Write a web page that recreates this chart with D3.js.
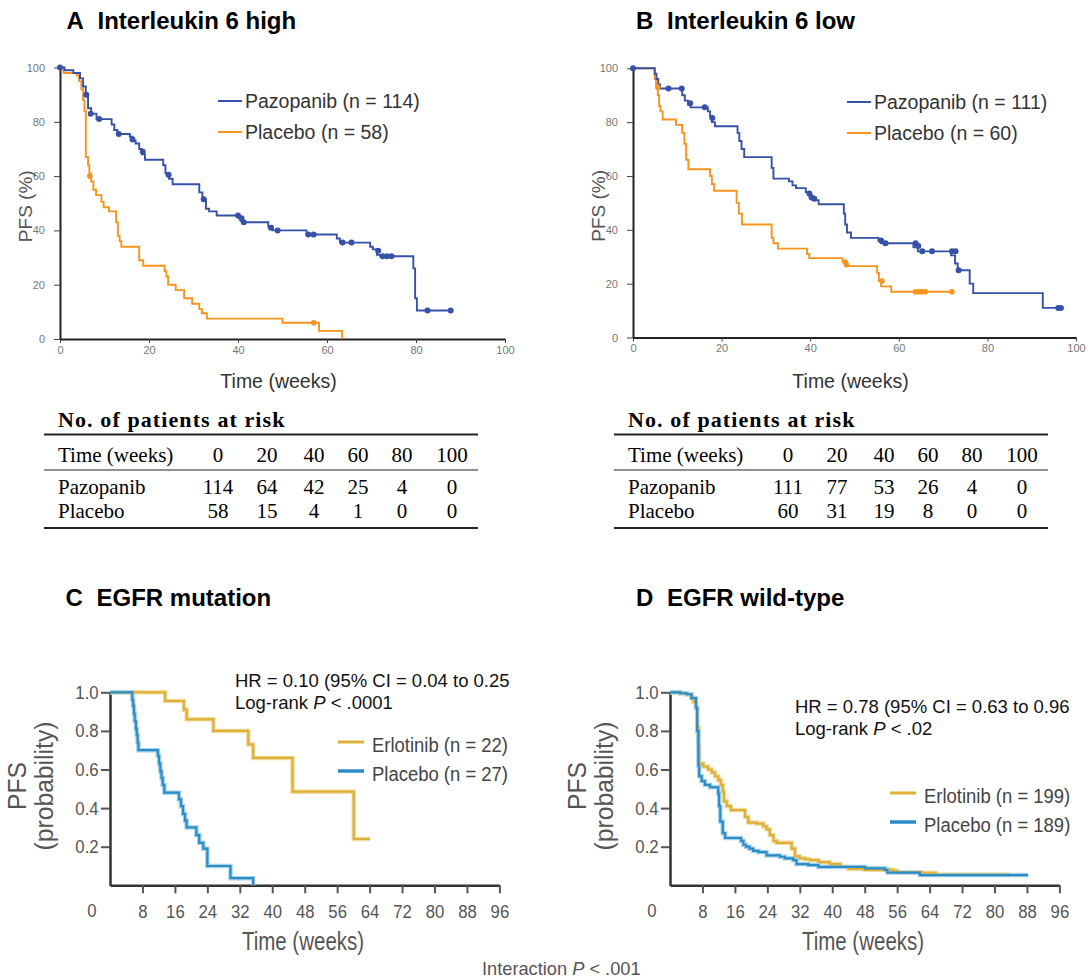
<!DOCTYPE html>
<html><head><meta charset="utf-8">
<script src="https://cdn.jsdelivr.net/npm/d3@7"></script>
<style>body{margin:0;background:#fff}</style>
</head><body>
<svg id="c" width="1090" height="978"></svg>
<script>
// ---------- Panel A: Interleukin 6 high (PFS %) ----------
const aPazoT = [0,1,3,4.5,5.2,5.8,6.3,7,8.2,11.6,12.2,12.9,15.7,16.3,17,17.8,18.4,19.1,23.2,23.7,24.5,25.3,31.3,32,32.8,33.5,35.2,40.2,40.6,41.2,46.8,47.8,55.4,62.2,62.9,69.7,70.3,71.2,72,79.4,79.8,80.2,87.8];
const aPazoS = [100,99,98,96,93,90,85,83,81,79,77,75.5,74.5,73,72,70,68,66,64,61,59,57,54,51,48,47,45.5,44.5,43.5,43,41.5,40,38.5,37,35.5,34,33,31,30.5,26,15,10.5,10.5];
const aPazoCensT = [0,5.9,6.9,8.8,13.2,16.3,18.6,24.4,32.3,40,40.8,41.3,47.4,48.9,55.8,57,63.5,65.5,71.5,72.5,73.5,74.5,82.6,87.8];
const aPazoCensS = [100,90,83,81,75.5,73.5,69,60.5,51.5,45.5,44.5,43,41,40,38.5,38.5,35.5,35.5,32.5,30.5,30.5,30.5,10.5,10.5];
const aPlacT = [0,0.8,3.8,4.3,4.8,5.2,5.5,5.8,6.3,6.6,7,7.5,8.1,9.3,9.8,11,12.6,13,13.4,13.8,17.8,18.7,23.5,23.9,24.3,26,27.9,29.7,31.3,31.9,33,50,58.2,63.4];
const aPlacS = [100,98,97,95,92,88,84,67,64,61,58,55,53,50.5,48.5,47,43,38,36,34,29,27,25,23,20,18,15,13,11,9.5,7.5,6,3,0];
const aPlacCensT = [0,6.7,57];
const aPlacCensS = [100,60,6];

// ---------- Panel B: Interleukin 6 low (PFS %) ----------
const bPazoT = [0,4.9,5.3,5.7,6.1,11.1,11.7,12.4,13,16.9,17.4,17.8,18.5,23.6,24,24.5,25.1,31.3,31.7,35.2,36,36.8,39,39.7,40.3,41.2,41.9,47.6,47.9,48.3,49.2,55.4,56,63.3,64.3,71.8,72.7,73.3,76,76.8,92.5,96.7];
const bPazoS = [100,98,96,94,92.5,90,88,86.5,85.5,84,82,80,78.5,76,73,70,67,63,59,58,56.5,55.5,54,53,52,51,49.5,46,42,39,37,36,35,33.5,32,30.5,27.5,25,20,16.5,11,11];
const bPazoCensT = [0,8,11,12.9,16.2,17.9,39.8,40.3,40.9,56,57,63.8,64.4,65.3,67.5,72,72.8,73.5,96,96.6];
const bPazoCensS = [100,92.5,92.5,87,85.5,81.5,53.5,52,51.5,36,35,35,34,32,32,32,32,25,11,11];
const bPlacT = [0,4.9,5.2,5.6,5.9,6.2,6.7,9.7,11.1,11.6,12,12.5,17.4,17.8,18.3,23.4,23.9,24.6,31.3,31.7,32.7,39.3,39.8,47.3,48.2,55.1,55.5,56,58.3,72.1];
const bPlacS = [100,96,93,90,86,84,81,79,76,72,66,62.5,60,57,54.5,50,46,42,37,35,33,31,29.5,28,26.5,24,21,19,17,17];
const bPlacCensT = [5.6,47.9,48.2,56.2,63.8,64.5,65.2,66,72];
const bPlacCensS = [93,28,27,21,17,17,17,17,17];

// ---------- Panel C: EGFR mutation (probability) ----------
const cErloT = [0,13.6,18.2,18.9,25.5,34.1,35.3,45,60.1,64.1];
const cErloS = [1,0.955,0.91,0.86,0.80,0.73,0.66,0.485,0.24,0.24];
const cPlacT = [0,5.5,5.7,5.9,6.1,6.4,6.6,6.8,7.0,11.8,12.1,12.4,12.7,13.0,13.4,17.0,17.5,18.0,18.5,18.9,21.3,22.0,23.0,24.0,29.7,35.3];
const cPlacS = [1,0.96,0.93,0.89,0.85,0.81,0.78,0.74,0.70,0.67,0.63,0.59,0.555,0.52,0.48,0.445,0.41,0.37,0.335,0.30,0.26,0.22,0.19,0.10,0.037,0];

// ---------- Panel D: EGFR wild-type (probability) ----------
const dErloT = [0,2.5,4.1,5.3,5.8,6.4,6.7,7.0,7.2,8.2,9.4,10.3,11.1,11.9,12.5,13,13.3,14,15,18.5,19.3,21.4,23,23.8,24.6,25.5,26.3,30,30.8,32,33.3,34.5,36.6,39.4,42,44,48,55,56,62,65.5,83.8];
const dErloS = [1,0.995,0.99,0.97,0.95,0.92,0.82,0.72,0.63,0.615,0.60,0.585,0.565,0.545,0.52,0.485,0.435,0.41,0.39,0.355,0.325,0.32,0.305,0.29,0.26,0.23,0.22,0.19,0.15,0.14,0.135,0.13,0.12,0.11,0.095,0.085,0.08,0.075,0.068,0.065,0.055,0.055];
const dPlacT = [0,2.5,4.1,5.3,6.4,6.7,7.0,7.2,7.8,8.6,9.9,11.9,12.1,12.4,13,13.6,17.5,18.1,18.7,19.6,20.5,21.8,23.8,27.1,28.3,30.4,31.2,34.1,36.6,48.1,53,53.6,61.6,88.3];
const dPlacS = [1,0.995,0.99,0.97,0.92,0.80,0.62,0.565,0.54,0.52,0.508,0.475,0.41,0.33,0.27,0.245,0.23,0.21,0.20,0.19,0.178,0.172,0.155,0.148,0.14,0.13,0.11,0.105,0.095,0.088,0.08,0.066,0.053,0.053];

// ---------- Tick labels / table ----------
const abTicks = [0,20,40,60,80,100];
const cdXTicks = [8,16,24,32,40,48,56,64,72,80,88,96];
const cdYTicks = [0.2,0.4,0.6,0.8,1.0];
const riskTimes = [0,20,40,60,80,100];
const aRiskPazo = [114,64,42,25,4,0];
const aRiskPlac = [58,15,4,1,0,0];
const bRiskPazo = [111,77,53,26,4,0];
const bRiskPlac = [60,31,19,8,0,0];

const zip = (t,s) => t.map((v,i)=>[v,s[i]]);
const svg = d3.select('#c');
svg.append('rect').attr('width',1090).attr('height',978).attr('fill','#fff');

const BLUE='#3651a6', ORANGE='#f7941d', GOLD='#ddb03a', CBLUE='#2b8dc6';
const SANS="'Liberation Sans', Arial, Helvetica, sans-serif";
const SERIF="'Liberation Serif', 'Times New Roman', serif";

function stext(g,x,y,str,o){
  const t=g.append('text')
    .attr('transform',`translate(${x},${y}) rotate(${o.rot||0}) scale(${o.sx||1},1)`)
    .attr('text-anchor',o.anchor||'start')
    .style('font-family',o.family||SANS).style('font-size',o.size+'px')
    .style('font-weight',o.weight||'normal').style('fill',o.fill||'#000');
  t.text(str); return t;
}

function title(x,y,letter,txt){
  stext(svg,x,y,letter,{size:24,weight:'bold'});
  stext(svg,x+31,y,txt,{size:24,weight:'bold'});
}
title(66.5,29,'A','Interleukin 6 high');
title(636,29,'B','Interleukin 6 low');
title(65.5,606,'C','EGFR mutation');
title(636,606,'D','EGFR wild-type');

// ---------- A/B plots ----------
function kmAB(xr, yr, pazo, plac, pazoC, placC, leg){
  const g=svg.append('g');
  const x=d3.scaleLinear().domain([0,100]).range(xr);
  const y=d3.scaleLinear().domain([0,100]).range(yr);
  const xa=g.append('g').attr('transform',`translate(0,${yr[0]})`)
    .call(d3.axisBottom(x).tickValues(abTicks).tickSize(4).tickSizeOuter(0).tickPadding(3));
  const ya=g.append('g').attr('transform',`translate(${xr[0]},0)`)
    .call(d3.axisLeft(y).tickValues(abTicks).tickSize(6).tickSizeOuter(0).tickPadding(9));
  [xa,ya].forEach(a=>{
    a.select('.domain').attr('stroke','#222').attr('stroke-width',2);
    a.selectAll('.tick line').attr('stroke','#444').attr('stroke-width',1);
    a.selectAll('.tick text').style('font-family',SANS).style('font-size','11px').attr('fill','#777');
  });
  const line=d3.line().x(d=>x(d[0])).y(d=>y(d[1])).curve(d3.curveStepAfter);
  g.append('path').attr('d',line(plac)).attr('fill','none').attr('stroke',ORANGE).attr('stroke-width',1.9);
  g.append('path').attr('d',line(pazo)).attr('fill','none').attr('stroke',BLUE).attr('stroke-width',1.9);
  g.selectAll('.cp').data(placC).enter().append('circle').attr('cx',d=>x(d[0])).attr('cy',d=>y(d[1])).attr('r',2.8).attr('fill',ORANGE);
  g.selectAll('.cz').data(pazoC).enter().append('circle').attr('cx',d=>x(d[0])).attr('cy',d=>y(d[1])).attr('r',3).attr('fill',BLUE);
  // axis titles
  stext(g,(xr[0]+xr[1])/2-4,388,'Time (weeks)',{size:19.5,anchor:'middle',fill:'#333'});
  stext(g,xr[0]-28,(yr[0]+yr[1])/2+3,'PFS (%)',{size:19,anchor:'middle',rot:-90,fill:'#555'});
  // legend
  const lx=leg[0], ly=leg[1];
  g.append('line').attr('x1',lx).attr('x2',lx+24).attr('y1',ly).attr('y2',ly).attr('stroke',BLUE).attr('stroke-width',2);
  g.append('line').attr('x1',lx).attr('x2',lx+24).attr('y1',ly+31).attr('y2',ly+31).attr('stroke',ORANGE).attr('stroke-width',2);
  stext(g,lx+27,ly+7,leg[2],{size:19.5,fill:'#333'});
  stext(g,lx+27,ly+38,leg[3],{size:19.5,fill:'#333'});
}
kmAB([60,505],[339,67.5],zip(aPazoT,aPazoS),zip(aPlacT,aPlacS),zip(aPazoCensT,aPazoCensS),zip(aPlacCensT,aPlacCensS),[218,101,'Pazopanib (n = 114)','Placebo (n = 58)']);
kmAB([633,1076],[337.5,68.3],zip(bPazoT,bPazoS),zip(bPlacT,bPlacS),zip(bPazoCensT,bPazoCensS),zip(bPlacCensT,bPlacCensS),[847,102,'Pazopanib (n = 111)','Placebo (n = 60)']);

// ---------- risk tables ----------
function riskTable(x0, cols, pazo, plac){
  const g=svg.append('g');
  const tx=x0+14;
  stext(g,tx,427,'No. of patients at risk',{size:22,weight:'bold',family:SERIF}).style('letter-spacing','1.1px');
  g.append('line').attr('x1',x0).attr('x2',x0+434).attr('y1',434.5).attr('y2',434.5).attr('stroke','#222').attr('stroke-width',1.8);
  g.append('line').attr('x1',x0).attr('x2',x0+434).attr('y1',470).attr('y2',470).attr('stroke','#222').attr('stroke-width',1);
  g.append('line').attr('x1',x0).attr('x2',x0+434).attr('y1',528).attr('y2',528).attr('stroke','#222').attr('stroke-width',1.8);
  stext(g,tx,462,'Time (weeks)',{size:21,family:SERIF});
  stext(g,tx,494,'Pazopanib',{size:21,family:SERIF});
  stext(g,tx,518,'Placebo',{size:21,family:SERIF});
  riskTimes.forEach((t,i)=>{
    stext(g,cols[i],462,String(t),{size:21,family:SERIF,anchor:'middle'});
    stext(g,cols[i],494,String(pazo[i]),{size:21,family:SERIF,anchor:'middle'});
    stext(g,cols[i],518,String(plac[i]),{size:21,family:SERIF,anchor:'middle'});
  });
}
riskTable(44,[218,267,314,358,402,452],aRiskPazo,aRiskPlac);
riskTable(614,[788,837,884,928,972,1022],bRiskPazo,bRiskPlac);

// ---------- C/D plots ----------
function kmCD(x0, erlo, plac, hr, pTxt, hrPos, leg){
  const g=svg.append('g');
  const x=d3.scaleLinear().domain([0,96]).range([x0,x0+389.4]);
  const y=d3.scaleLinear().domain([0,1]).range([885.3,692.3]);
  const xa=g.append('g').attr('transform',`translate(0,${y(0)})`)
    .call(d3.axisBottom(x).tickValues(cdXTicks).tickSize(8).tickSizeOuter(0).tickPadding(11));
  const ya=g.append('g').attr('transform',`translate(${x0},0)`)
    .call(d3.axisLeft(y).tickValues(cdYTicks).tickFormat(d3.format('.1f')).tickSize(9).tickSizeOuter(0).tickPadding(4));
  [xa,ya].forEach(a=>{
    a.select('.domain').attr('stroke','#333').attr('stroke-width',2.5);
    a.selectAll('.tick line').attr('stroke','#555').attr('stroke-width',2);
    a.selectAll('.tick text').style('font-family',SANS).style('font-size','19px').attr('fill','#555').attr('transform','scale(0.88,1)');
  });
  stext(g,x0-18,917,'0',{size:19,sx:0.88,anchor:'middle',fill:'#555'});
  const line=d3.line().x(d=>x(d[0])).y(d=>y(d[1])).curve(d3.curveStepAfter);
  g.append('path').attr('d',line(erlo)).attr('fill','none').attr('stroke','#f1dca0').attr('stroke-width',4.5);
  g.append('path').attr('d',line(plac)).attr('fill','none').attr('stroke','#a9d3ec').attr('stroke-width',4.5);
  g.append('path').attr('d',line(erlo)).attr('fill','none').attr('stroke',GOLD).attr('stroke-width',2.2);
  g.append('path').attr('d',line(plac)).attr('fill','none').attr('stroke',CBLUE).attr('stroke-width',2.2);
  stext(g,x0+193,950,'Time (weeks)',{size:25,sx:0.82,anchor:'middle',fill:'#555'});
  stext(g,x0-57,786,'(probability)',{size:26,sx:0.95,anchor:'middle',rot:-90,fill:'#555'});
  stext(g,x0-84,786,'PFS',{size:26,sx:0.95,anchor:'middle',rot:-90,fill:'#555'});
  // HR annotation
  stext(g,hrPos[0],hrPos[1],hr,{size:18.5,fill:'#111'});
  const t2=g.append('text').attr('x',hrPos[0]).attr('y',hrPos[1]+22)
    .style('font-family',SANS).style('font-size','18.5px').attr('fill','#111');
  t2.append('tspan').text('Log-rank ');
  t2.append('tspan').style('font-style','italic').text('P');
  t2.append('tspan').text(' < '+pTxt);
  // legend
  const lx=leg[0], ly=leg[1];
  g.append('line').attr('x1',lx).attr('x2',lx+26).attr('y1',ly).attr('y2',ly).attr('stroke',GOLD).attr('stroke-width',3);
  g.append('line').attr('x1',lx).attr('x2',lx+26).attr('y1',ly+29).attr('y2',ly+29).attr('stroke',CBLUE).attr('stroke-width',3.5);
  stext(g,lx+34,ly+10,leg[2],{size:21,sx:0.88,fill:'#444'});
  stext(g,lx+34,ly+39,leg[3],{size:21,sx:0.88,fill:'#444'});
}
kmCD(110,zip(cErloT,cErloS),zip(cPlacT,cPlacS),'HR = 0.10 (95% CI = 0.04 to 0.25','.0001',[235,687],[338,742,'Erlotinib (n = 22)','Placebo (n = 27)']);
kmCD(670,zip(dErloT,dErloS),zip(dPlacT,dPlacS),'HR = 0.78 (95% CI = 0.63 to 0.96','.02',[795,713],[890,793,'Erlotinib (n = 199)','Placebo (n = 189)']);

// footer
const ft=svg.append('text').attr('transform','translate(482,975) scale(0.96,1)')
  .style('font-family',SANS).style('font-size','19px').attr('fill','#555');
ft.append('tspan').text('Interaction ');
ft.append('tspan').style('font-style','italic').text('P');
ft.append('tspan').text(' < .001');
</script>
</body></html>
